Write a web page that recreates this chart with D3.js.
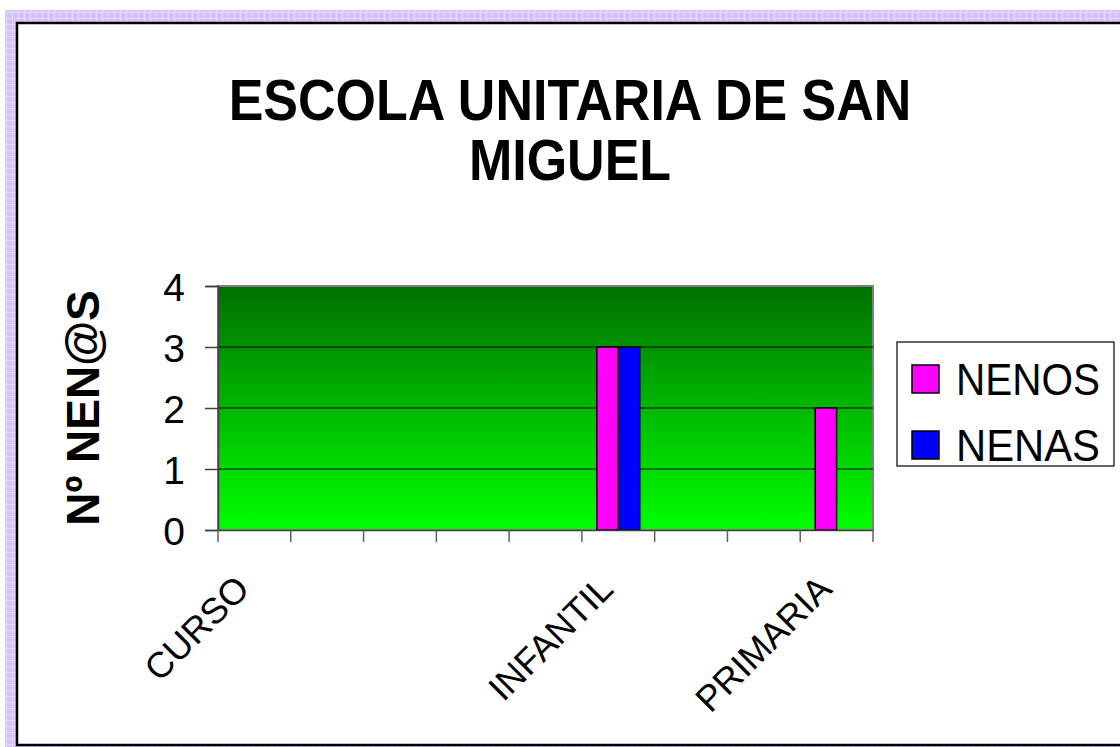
<!DOCTYPE html>
<html>
<head>
<meta charset="utf-8">
<script src="https://cdn.jsdelivr.net/npm/d3@7"></script>
<style>
  body { margin: 0; background: #fff; }
  svg { display: block; font-family: "Liberation Sans", Arial, sans-serif; }
</style>
</head>
<body>
<div id="chart"></div>
<script>
// datos do grafico
var cursos = ["CURSO", "", "", "", "", "INFANTIL", "", "", "PRIMARIA"];
var series = ["NENOS", "NENAS"];
var nenos = [0, 0, 0, 0, 0, 3, 0, 0, 2];
var nenas = [0, 0, 0, 0, 0, 3, 0, 0, 0];
var cores = ["#ff00ff", "#0000ff"];
var yTicks = [0, 1, 2, 3, 4];

var width = 1120;
var height = 747;

var svg = d3.select("#chart")
    .append("svg")
    .attr("width", width)
    .attr("height", height);

var defs = svg.append("defs");

// marco lila con reixa
var pat = defs.append("pattern")
    .attr("id", "lila")
    .attr("width", 6)
    .attr("height", 6)
    .attr("patternUnits", "userSpaceOnUse");
pat.append("rect").attr("width", 6).attr("height", 6).attr("fill", "#d7bff7");
pat.append("rect").attr("x", 0).attr("y", 0).attr("width", 6).attr("height", 1).attr("fill", "#e6d8fb");
pat.append("rect").attr("x", 0).attr("y", 0).attr("width", 1).attr("height", 6).attr("fill", "#e6d8fb");

// degradado verde da area do grafico
var grad = defs.append("linearGradient")
    .attr("id", "verde")
    .attr("x1", 0).attr("y1", 0)
    .attr("x2", 0).attr("y2", 1);
grad.append("stop").attr("offset", "0%").attr("stop-color", "#007000");
grad.append("stop").attr("offset", "100%").attr("stop-color", "#00ff00");

svg.append("rect")
    .attr("x", 5).attr("y", 10)
    .attr("width", width - 5).attr("height", height - 10)
    .attr("fill", "url(#lila)");

svg.append("rect")
    .attr("x", 17).attr("y", 23)
    .attr("width", width + 20).attr("height", 722)
    .attr("fill", "#fff")
    .attr("stroke", "#000")
    .attr("stroke-width", 2.5);

// titulo (un pouco estirado en vertical)
var titulo = svg.append("text")
    .attr("transform", "translate(570,0) scale(1,1.1)")
    .attr("text-anchor", "middle")
    .attr("font-weight", "bold")
    .attr("font-size", 52)
    .attr("fill", "#000");
titulo.append("tspan").attr("x", 0).attr("y", 109).text("ESCOLA UNITARIA DE SAN");
titulo.append("tspan").attr("x", 0).attr("y", 164).text("MIGUEL");

var plot = { left: 218, top: 286, right: 873, bottom: 530 };

var x = d3.scaleBand()
    .domain(d3.range(cursos.length))
    .range([plot.left, plot.right]);

var bw = x.bandwidth();
var xSub = d3.scaleBand()
    .domain(series)
    .range([bw * 0.205, bw * 0.795]);

var y = d3.scaleLinear()
    .domain([0, 4])
    .range([plot.bottom, plot.top]);

svg.append("rect")
    .attr("x", plot.left).attr("y", plot.top)
    .attr("width", plot.right - plot.left)
    .attr("height", plot.bottom - plot.top)
    .attr("fill", "url(#verde)")
    .attr("stroke", "#808080")
    .attr("stroke-width", 2);

// lineas de division
svg.append("g")
    .selectAll("line")
    .data(yTicks.filter(function (d) { return d > 0 && d < 4; }))
    .enter()
    .append("line")
    .attr("x1", plot.left).attr("x2", plot.right)
    .attr("y1", function (d) { return y(d); })
    .attr("y2", function (d) { return y(d); })
    .attr("stroke", "#000")
    .attr("stroke-width", 1);

// barras
var datos = [];
cursos.forEach(function (c, i) {
    datos.push({ i: i, serie: "NENOS", valor: nenos[i], cor: cores[0] });
    datos.push({ i: i, serie: "NENAS", valor: nenas[i], cor: cores[1] });
});

svg.append("g")
    .selectAll("rect")
    .data(datos.filter(function (d) { return d.valor > 0; }))
    .enter()
    .append("rect")
    .attr("x", function (d) { return x(d.i) + xSub(d.serie); })
    .attr("y", function (d) { return y(d.valor); })
    .attr("width", xSub.bandwidth())
    .attr("height", function (d) { return y(0) - y(d.valor); })
    .attr("fill", function (d) { return d.cor; })
    .attr("stroke", "#000")
    .attr("stroke-width", 1.5);

// eixo Y
var yAxis = svg.append("g")
    .attr("transform", "translate(" + plot.left + ",0)")
    .call(d3.axisLeft(y).tickValues(yTicks).tickSize(13).tickPadding(20).tickFormat(d3.format("d")));
yAxis.select(".domain").attr("stroke", "#404040").attr("stroke-width", 1.5);
yAxis.selectAll(".tick line").attr("stroke", "#404040").attr("stroke-width", 1.5);
yAxis.selectAll("text")
    .attr("font-size", 39)
    .attr("font-family", "Liberation Sans, Arial, sans-serif")
    .attr("fill", "#000")
    .attr("dy", "0.36em");

// eixo X
var xAxis = svg.append("g")
    .attr("transform", "translate(0," + plot.bottom + ")")
    .call(d3.axisBottom(x).tickSize(0).tickFormat(function (i) { return cursos[i]; }));
xAxis.select(".domain").attr("stroke", "#404040").attr("stroke-width", 1.5);

// marcas entre categorias
svg.append("g")
    .selectAll("line")
    .data(d3.range(cursos.length + 1))
    .enter()
    .append("line")
    .attr("x1", function (i) { return plot.left + i * bw; })
    .attr("x2", function (i) { return plot.left + i * bw; })
    .attr("y1", plot.bottom)
    .attr("y2", plot.bottom + 12)
    .attr("stroke", "#606060")
    .attr("stroke-width", 1.5);

xAxis.selectAll("text")
    .attr("font-size", 36)
    .attr("font-family", "Liberation Sans, Arial, sans-serif")
    .attr("fill", "#000")
    .attr("text-anchor", "end")
    .attr("y", 0)
    .attr("dy", 0)
    .attr("transform", "translate(-3,61) rotate(-45)");

// titulo do eixo Y
svg.append("text")
    .attr("transform", "translate(99,408) rotate(-90)")
    .attr("text-anchor", "middle")
    .attr("font-weight", "bold")
    .attr("font-size", 46)
    .attr("fill", "#000")
    .text("Nº NEN@S");

// lenda
var lenda = svg.append("g");
lenda.append("rect")
    .attr("x", 897).attr("y", 342)
    .attr("width", 217).attr("height", 124)
    .attr("fill", "#fff")
    .attr("stroke", "#000")
    .attr("stroke-width", 1.2);

var items = lenda.selectAll("g.item")
    .data(series)
    .enter()
    .append("g")
    .attr("class", "item")
    .attr("transform", function (d, i) { return "translate(912," + (365 + i * 66) + ")"; });

items.append("rect")
    .attr("width", 27).attr("height", 28)
    .attr("fill", function (d, i) { return cores[i]; })
    .attr("stroke", "#000")
    .attr("stroke-width", 1.5);

items.append("text")
    .attr("x", 44)
    .attr("y", 30)
    .attr("font-size", 45)
    .attr("textLength", 144)
    .attr("lengthAdjust", "spacingAndGlyphs")
    .attr("fill", "#000")
    .text(function (d) { return d; });
</script>
</body>
</html>
